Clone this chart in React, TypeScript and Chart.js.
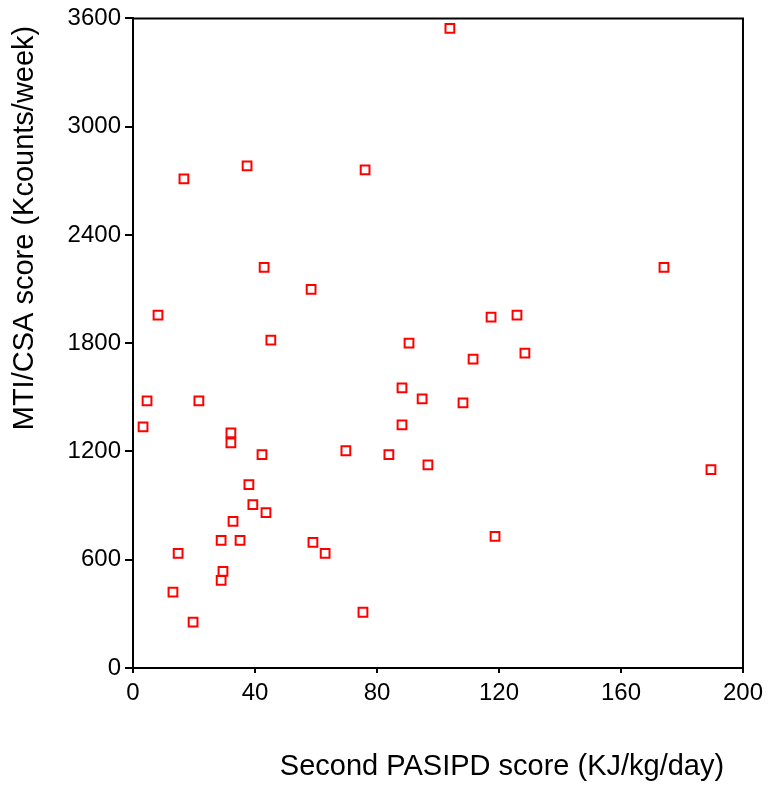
import React, { useEffect, useRef } from "react";
import { Chart, registerables } from "chart.js";

Chart.register(...registerables);

const pasipdScores: number[] = [
  103.9, 16.7, 37.4, 76.1, 43.0, 58.4, 8.2, 45.2, 4.6, 3.3,
  21.6, 32.1, 32.1, 42.3, 69.8, 38.0, 39.3, 43.6, 32.8, 28.9,
  35.1, 14.8, 29.5, 28.9, 13.1, 19.7, 59.0, 63.0, 75.4, 83.9,
  88.2, 88.2, 90.5, 94.8, 96.7, 108.2, 111.5, 117.4, 125.9, 128.5,
  118.7, 174.1, 189.5,
];
const mtiScores: number[] = [
  3545, 2711, 2783, 2761, 2220, 2098, 1955, 1817, 1480, 1336,
  1480, 1303, 1248, 1182, 1204, 1016, 906, 861, 812, 707,
  707, 635, 536, 486, 420, 254, 696, 635, 309, 1182,
  1552, 1347, 1800, 1491, 1126, 1469, 1712, 1944, 1955, 1745,
  729, 2220, 1099,
];
const xTickValues: number[] = [0, 40, 80, 120, 160, 200];
const yTickValues: number[] = [0, 600, 1200, 1800, 2400, 3000, 3600];
const xTitle = "Second PASIPD score (KJ/kg/day)";
const yTitle = "MTI/CSA score (Kcounts/week)";

const FONT = "'Liberation Sans', Arial, sans-serif";

export default function App() {
  const ref = useRef<HTMLCanvasElement | null>(null);

  useEffect(() => {
    if (!ref.current) return;
    const points = pasipdScores.map((x, i) => ({ x, y: mtiScores[i] }));

    const framePlugin = {
      id: "frameAndTitles",
      afterDraw(chart: any) {
        const { ctx, chartArea } = chart;
        ctx.save();
        ctx.strokeStyle = "#000";
        ctx.lineWidth = 2;
        ctx.beginPath();
        ctx.moveTo(chartArea.left, chartArea.top);
        ctx.lineTo(chartArea.right, chartArea.top);
        ctx.lineTo(chartArea.right, chartArea.bottom);
        ctx.stroke();

        ctx.fillStyle = "#000";
        ctx.font = `29px ${FONT}`;
        ctx.textAlign = "center";
        ctx.textBaseline = "middle";
        ctx.fillText(xTitle, 502, 767);

        ctx.translate(25, 228);
        ctx.rotate(-Math.PI / 2);
        ctx.fillText(yTitle, 0, 0);
        ctx.restore();
      },
    };

    const chart = new Chart(ref.current, {
      type: "scatter",
      data: {
        datasets: [
          {
            data: points,
            pointStyle: "rect",
            pointRadius: 6.2,
            pointHoverRadius: 6.2,
            borderColor: "#ff0000",
            backgroundColor: "#ffffff",
            pointBorderWidth: 2,
          },
        ],
      },
      options: {
        responsive: false,
        animation: false,
        layout: { padding: { top: 16, right: 26, left: 0, bottom: 0 } },
        plugins: {
          legend: { display: false },
          tooltip: { enabled: false },
        },
        scales: {
          x: {
            type: "linear",
            min: 0,
            max: 200,
            afterFit(scale: any) {
              scale.height = 121;
            },
            afterBuildTicks(scale: any) {
              scale.ticks = xTickValues.map((v) => ({ value: v }));
            },
            border: { display: true, color: "#000", width: 2 },
            grid: {
              display: true,
              drawOnChartArea: false,
              drawTicks: true,
              tickLength: 5,
              color: "#000",
              lineWidth: 2,
            },
            ticks: {
              color: "#000",
              font: { family: FONT, size: 24 },
              padding: 6,
              maxRotation: 0,
              callback: (v: any) => String(v),
            },
          },
          y: {
            type: "linear",
            min: 0,
            max: 3600,
            afterFit(scale: any) {
              scale.width = 133;
            },
            afterBuildTicks(scale: any) {
              scale.ticks = yTickValues.map((v) => ({ value: v }));
            },
            border: { display: true, color: "#000", width: 2 },
            grid: {
              display: true,
              drawOnChartArea: false,
              drawTicks: true,
              tickLength: 8,
              color: "#000",
              lineWidth: 2,
            },
            ticks: {
              color: "#000",
              font: { family: FONT, size: 24 },
              padding: 4,
              callback: (v: any) => String(v),
            },
          },
        },
      },
      plugins: [framePlugin],
    });

    return () => chart.destroy();
  }, []);

  return (
    <div style={{ position: "absolute", left: 0, top: 0, width: 769, height: 789, background: "#fff" }}>
      <canvas ref={ref} width={769} height={789} style={{ display: "block" }} />
    </div>
  );
}
